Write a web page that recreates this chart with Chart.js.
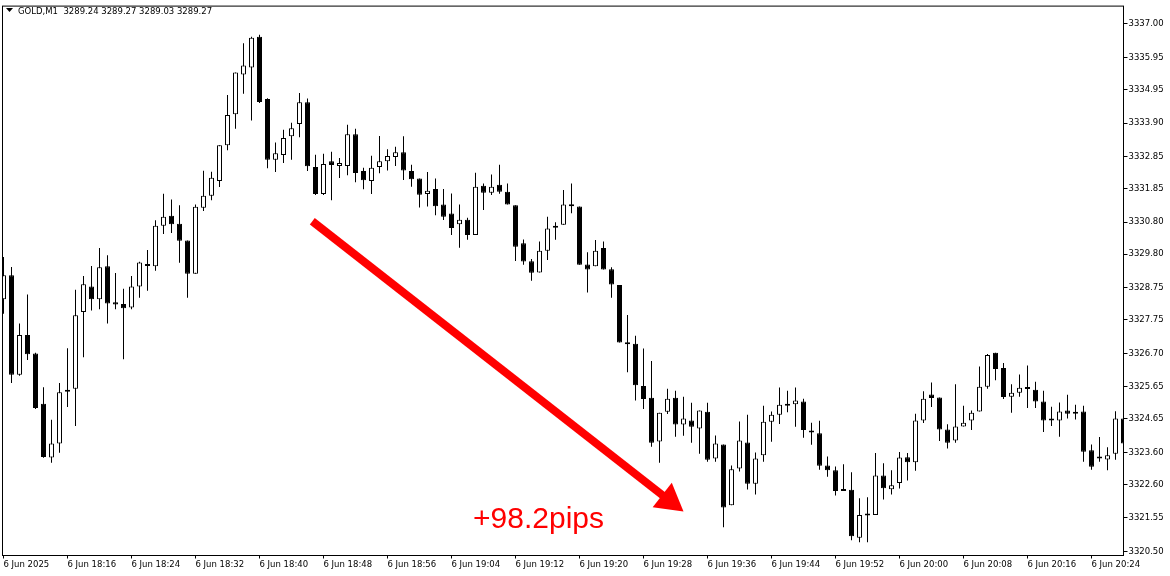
<!DOCTYPE html>
<html>
<head>
<meta charset="utf-8">
<title>GOLD,M1</title>
<script src="https://cdn.jsdelivr.net/npm/chart.js@4.4.1/dist/chart.umd.min.js"></script>
<style>
  html, body { margin: 0; padding: 0; background: #fff; }
  #wrap { width: 1170px; height: 576px; }
</style>
</head>
<body>
<div id="wrap"><canvas id="goldChart" width="1170" height="576"></canvas></div>
<script>
var symbolTitle = 'GOLD,M1  3289.24 3289.27 3289.03 3289.27';

// one candle per minute, 18:08 .. 20:28
var opens = [
  3328.39, 3329.14, 3326.03, 3327.27, 3326.69, 3325.12, 3323.44, 3323.88, 3325.53, 3325.59,
  3327.99, 3328.79, 3328.39, 3329.42, 3328.30, 3328.24, 3328.13, 3328.79, 3329.45, 3329.42,
  3330.69, 3331.00, 3330.75, 3330.23, 3329.19, 3331.25, 3331.63, 3332.09, 3333.21, 3334.18,
  3335.42, 3335.64, 3336.60, 3334.65, 3332.75, 3332.90, 3333.49, 3333.87, 3334.55, 3332.53,
  3331.68, 3332.71, 3332.56, 3332.56, 3333.55, 3332.40, 3332.09, 3332.53, 3332.71, 3332.84,
  3332.99, 3332.40, 3332.17, 3331.68, 3331.84, 3331.35, 3331.07, 3330.74, 3330.88, 3330.40,
  3331.94, 3331.72, 3331.97, 3331.75, 3331.33, 3330.14, 3329.58, 3329.23, 3329.91, 3330.63,
  3330.72, 3331.35, 3331.29, 3329.48, 3329.42, 3329.99, 3329.33, 3328.84, 3327.02, 3327.00,
  3325.68, 3325.31, 3323.94, 3324.87, 3325.31, 3324.47, 3324.60, 3324.35, 3324.87, 3323.41,
  3323.85, 3321.95, 3323.10, 3323.91, 3322.62, 3323.51, 3324.56, 3324.78, 3325.09, 3325.11,
  3325.19, 3324.25, 3324.20, 3323.19, 3323.04, 3322.42, 3322.43, 3320.93, 3321.63, 3321.64,
  3322.88, 3322.45, 3322.64, 3323.45, 3323.29, 3324.60, 3325.41, 3325.32, 3324.32, 3323.97,
  3324.41, 3324.60, 3324.88, 3325.65, 3326.72, 3326.24, 3325.34, 3325.47, 3325.62, 3325.56,
  3325.19, 3324.63, 3324.60, 3324.91, 3324.85, 3324.88, 3323.67, 3323.45, 3323.38, 3323.56,
  3324.66
];
var highs = [
  3329.71, 3329.40, 3327.63, 3328.54, 3326.72, 3325.64, 3324.62, 3325.77, 3326.86, 3328.69,
  3329.12, 3329.43, 3329.99, 3329.77, 3329.21, 3328.72, 3329.12, 3329.56, 3329.93, 3330.86,
  3331.69, 3331.51, 3331.33, 3330.23, 3331.35, 3332.41, 3332.38, 3333.21, 3334.78, 3335.48,
  3336.40, 3336.60, 3336.66, 3334.68, 3333.29, 3333.69, 3333.91, 3334.84, 3334.67, 3332.91,
  3332.94, 3333.00, 3332.81, 3333.85, 3333.72, 3332.50, 3332.88, 3333.50, 3333.08, 3333.16,
  3333.49, 3332.60, 3332.17, 3332.37, 3332.17, 3331.84, 3331.70, 3331.35, 3330.94, 3332.35,
  3332.01, 3332.29, 3332.60, 3332.01, 3331.33, 3330.26, 3329.65, 3330.20, 3330.97, 3330.80,
  3331.81, 3332.01, 3331.29, 3329.86, 3330.24, 3330.20, 3329.39, 3328.84, 3327.90, 3327.25,
  3326.85, 3326.46, 3324.84, 3325.59, 3325.53, 3325.34, 3325.15, 3324.91, 3325.15, 3324.13,
  3323.85, 3323.19, 3324.57, 3324.78, 3323.60, 3325.06, 3324.88, 3325.63, 3325.53, 3325.63,
  3325.28, 3324.53, 3324.59, 3323.47, 3323.16, 3323.23, 3322.98, 3322.17, 3322.20, 3323.58,
  3323.26, 3323.04, 3323.61, 3323.58, 3324.81, 3325.51, 3325.79, 3325.32, 3324.48, 3325.73,
  3325.06, 3324.91, 3326.29, 3326.68, 3326.72, 3326.40, 3325.73, 3326.04, 3326.32, 3325.81,
  3325.53, 3325.03, 3325.16, 3325.40, 3325.09, 3325.06, 3323.85, 3324.08, 3323.76, 3324.89,
  3325.11
];
var lows = [
  3327.94, 3325.77, 3326.00, 3326.49, 3324.96, 3323.43, 3323.28, 3323.59, 3325.02, 3324.43,
  3326.58, 3328.04, 3328.08, 3327.63, 3328.08, 3326.51, 3328.08, 3328.44, 3328.66, 3329.28,
  3330.43, 3330.46, 3329.53, 3328.44, 3329.19, 3331.15, 3331.49, 3331.90, 3333.05, 3333.72,
  3334.82, 3333.98, 3334.53, 3332.49, 3332.37, 3332.65, 3332.75, 3333.46, 3332.40, 3331.65,
  3331.65, 3331.49, 3332.18, 3332.27, 3332.05, 3331.83, 3331.68, 3332.33, 3332.42, 3332.56,
  3332.12, 3331.91, 3331.26, 3331.29, 3331.02, 3330.87, 3330.40, 3330.00, 3330.25, 3330.40,
  3331.18, 3331.65, 3331.69, 3331.35, 3329.59, 3329.47, 3328.97, 3329.23, 3329.62, 3330.25,
  3330.72, 3331.08, 3329.47, 3328.60, 3329.42, 3329.32, 3328.44, 3327.04, 3326.11, 3325.22,
  3324.96, 3323.78, 3323.28, 3324.80, 3324.09, 3324.12, 3323.90, 3323.56, 3323.31, 3323.31,
  3321.26, 3321.95, 3323.00, 3322.44, 3322.28, 3323.31, 3323.93, 3324.49, 3324.86, 3324.40,
  3324.06, 3323.84, 3323.06, 3322.84, 3322.25, 3322.39, 3320.85, 3320.79, 3320.79, 3321.64,
  3322.13, 3322.28, 3322.47, 3322.72, 3323.03, 3324.52, 3325.02, 3323.96, 3323.72, 3323.90,
  3324.41, 3324.30, 3324.88, 3325.59, 3325.86, 3325.27, 3324.84, 3325.34, 3324.99, 3324.99,
  3324.24, 3324.43, 3324.09, 3324.66, 3324.63, 3323.31, 3323.06, 3323.31, 3323.04, 3323.37,
  3323.25
];
var closes = [
  3329.14, 3326.03, 3327.27, 3326.67, 3324.99, 3323.46, 3323.88, 3325.48, 3325.50, 3327.89,
  3328.86, 3328.39, 3329.39, 3328.26, 3328.23, 3328.11, 3328.79, 3329.54, 3329.43, 3330.69,
  3330.97, 3330.74, 3330.22, 3329.19, 3331.28, 3331.63, 3332.19, 3333.21, 3334.15, 3335.48,
  3335.70, 3336.57, 3334.56, 3332.75, 3332.96, 3333.43, 3333.74, 3334.55, 3332.55, 3331.68,
  3332.62, 3332.59, 3332.65, 3333.55, 3332.34, 3332.11, 3332.50, 3332.71, 3332.87, 3332.99,
  3332.42, 3332.14, 3331.66, 3331.78, 3331.30, 3330.97, 3330.62, 3330.88, 3330.40, 3331.91,
  3331.72, 3331.91, 3331.75, 3331.35, 3330.03, 3329.57, 3329.22, 3329.91, 3330.60, 3330.69,
  3331.35, 3331.30, 3329.47, 3329.32, 3329.91, 3329.32, 3328.85, 3327.04, 3326.98, 3325.70,
  3325.27, 3323.90, 3324.84, 3325.28, 3324.47, 3324.66, 3324.40, 3324.91, 3323.37, 3323.88,
  3321.88, 3323.07, 3323.97, 3322.62, 3323.41, 3324.56, 3324.78, 3325.09, 3325.06, 3325.22,
  3324.30, 3324.22, 3323.18, 3323.04, 3322.39, 3322.39, 3320.98, 3321.64, 3321.65, 3322.88,
  3322.48, 3322.57, 3323.44, 3323.29, 3324.60, 3325.28, 3325.30, 3324.32, 3323.90, 3324.41,
  3324.53, 3324.84, 3325.65, 3326.65, 3326.21, 3325.33, 3325.47, 3325.62, 3325.58, 3325.19,
  3324.60, 3324.60, 3324.88, 3324.81, 3324.81, 3323.62, 3323.15, 3323.41, 3323.51, 3324.66,
  3323.88
];

var xTickLabels = [
  '6 Jun 2025', '6 Jun 18:16', '6 Jun 18:24', '6 Jun 18:32', '6 Jun 18:40', '6 Jun 18:48',
  '6 Jun 18:56', '6 Jun 19:04', '6 Jun 19:12', '6 Jun 19:20', '6 Jun 19:28', '6 Jun 19:36',
  '6 Jun 19:44', '6 Jun 19:52', '6 Jun 20:00', '6 Jun 20:08', '6 Jun 20:16', '6 Jun 20:24'
];
var xTickStep = 8; // candles between time labels
var yTickLabels = [
  '3337.00', '3335.95', '3334.95', '3333.90', '3332.85', '3331.85', '3330.80', '3329.80',
  '3328.75', '3327.75', '3326.70', '3325.65', '3324.65', '3323.60', '3322.60', '3321.55', '3320.50'
];

// red annotation, in candle index / price units
var arrowFrom = [38.6, 3330.83];
var arrowTo = [85.0, 3321.75];
var pipsText = '+98.2pips';
var pipsAt = [58.7, 3321.24];

var RED = '#ff0000';
var AXIS_FONT = { family: 'DejaVu Sans', size: 8.5 };

var wickData = [], bodyData = [];
for (var i = 0; i < opens.length; i++) {
  wickData.push({ x: i, y: [lows[i], highs[i]] });
  bodyData.push({ x: i, y: [opens[i], closes[i]] });
}

var frameAndNotes = {
  id: 'frameAndNotes',
  afterDatasetsDraw: function (chart) {
    var ctx = chart.ctx, a = chart.chartArea;
    var xs = chart.scales.x, ys = chart.scales.y;
    ctx.save();

    // arrow
    var x0 = xs.getPixelForValue(arrowFrom[0]), y0 = ys.getPixelForValue(arrowFrom[1]);
    var x1 = xs.getPixelForValue(arrowTo[0]), y1 = ys.getPixelForValue(arrowTo[1]);
    var ang = Math.atan2(y1 - y0, x1 - x0);
    var headLen = 27, headHalf = 15.5;
    var bx = x1 - headLen * Math.cos(ang), by = y1 - headLen * Math.sin(ang);
    ctx.strokeStyle = RED;
    ctx.fillStyle = RED;
    ctx.lineWidth = 8;
    ctx.lineCap = 'butt';
    ctx.beginPath();
    ctx.moveTo(x0, y0);
    ctx.lineTo(bx + Math.cos(ang), by + Math.sin(ang));
    ctx.stroke();
    ctx.beginPath();
    ctx.moveTo(x1, y1);
    ctx.lineTo(bx - headHalf * Math.sin(ang), by + headHalf * Math.cos(ang));
    ctx.lineTo(bx + headHalf * Math.sin(ang), by - headHalf * Math.cos(ang));
    ctx.closePath();
    ctx.fill();

    ctx.font = '30px "Liberation Sans", Arial, sans-serif';
    ctx.textBaseline = 'alphabetic';
    ctx.textAlign = 'left';
    ctx.fillText(pipsText, xs.getPixelForValue(pipsAt[0]), ys.getPixelForValue(pipsAt[1]));

    // frame
    ctx.strokeStyle = '#000';
    ctx.lineWidth = 1;
    ctx.strokeRect(a.left, a.top, a.right - a.left, a.bottom - a.top);

    // symbol line
    ctx.fillStyle = '#000';
    ctx.beginPath();
    ctx.moveTo(6, 8);
    ctx.lineTo(13, 8);
    ctx.lineTo(9.5, 12);
    ctx.closePath();
    ctx.fill();
    ctx.font = '8.5px "DejaVu Sans"';
    ctx.fillText(symbolTitle, 18, 14);
    ctx.restore();
  }
};

new Chart(document.getElementById('goldChart'), {
  type: 'bar',
  data: {
    datasets: [
      {
        data: wickData,
        backgroundColor: '#000',
        borderWidth: 0,
        barThickness: 1,
        grouped: false,
        inflateAmount: 0,
        order: 2
      },
      {
        data: bodyData,
        backgroundColor: function (c) {
          var k = c.dataIndex;
          return closes[k] >= opens[k] ? '#fff' : '#000';
        },
        borderColor: '#000',
        borderWidth: 1,
        borderSkipped: false,
        barThickness: 5,
        minBarLength: 2,
        grouped: false,
        inflateAmount: 0,
        order: 1
      }
    ]
  },
  options: {
    responsive: false,
    animation: false,
    devicePixelRatio: 1,
    events: [],
    layout: { padding: { left: 2.5, top: 2.5, right: 0, bottom: 0 } },
    plugins: { legend: { display: false }, tooltip: { enabled: false } },
    scales: {
      x: {
        type: 'linear',
        offset: false,
        min: -0.125,
        max: opens.length - 1,
        border: { display: false },
        grid: { offset: false, drawOnChartArea: false, drawTicks: true, tickLength: 3, color: '#000' },
        afterBuildTicks: function (s) {
          s.ticks = xTickLabels.map(function (_, k) { return { value: k * xTickStep }; });
        },
        afterFit: function (s) { s.height = 20.5; },
        ticks: {
          autoSkip: false,
          maxRotation: 0,
          align: 'start',
          padding: 1,
          color: '#000',
          font: AXIS_FONT,
          callback: function (v, k) { return xTickLabels[k]; }
        }
      },
      y: {
        position: 'right',
        min: 3320.376,
        max: 3337.559,
        border: { display: false },
        grid: { drawOnChartArea: false, drawTicks: true, tickLength: 4, color: '#000' },
        afterBuildTicks: function (s) {
          s.ticks = yTickLabels.map(function (t) { return { value: parseFloat(t) }; });
        },
        afterFit: function (s) { s.width = 46.5; },
        ticks: {
          autoSkip: false,
          padding: 1,
          color: '#000',
          font: AXIS_FONT,
          callback: function (v, k) { return yTickLabels[k]; }
        }
      }
    }
  },
  plugins: [frameAndNotes]
});
</script>
</body>
</html>
